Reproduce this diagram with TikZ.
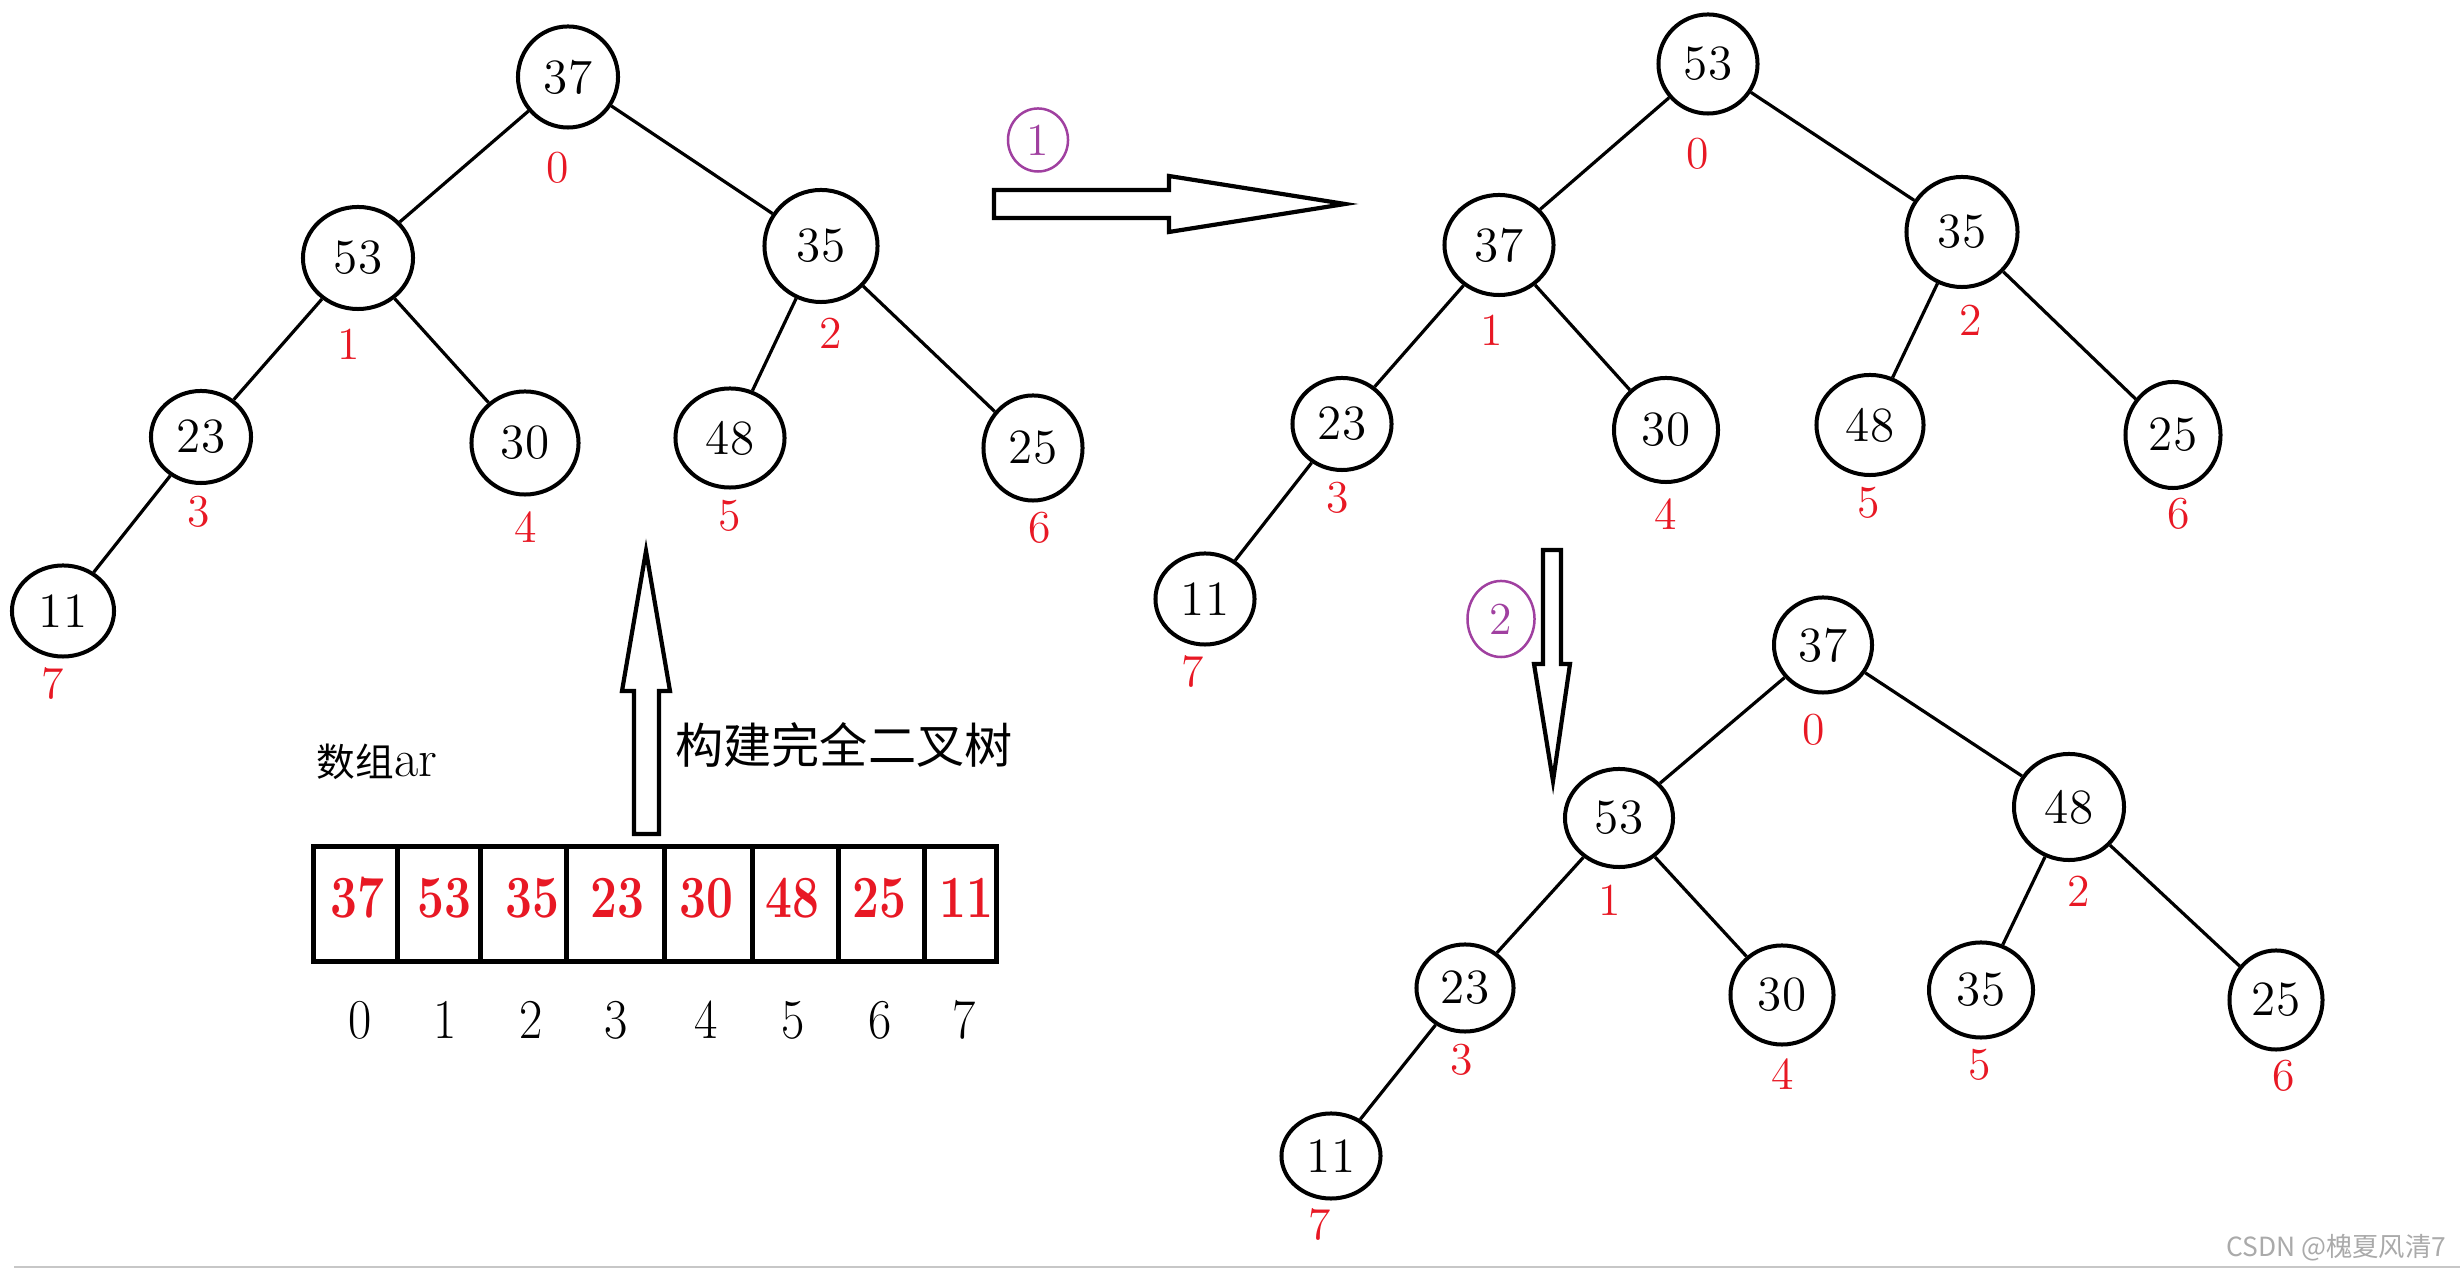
\documentclass[tikz,border=0pt]{standalone}
\usepackage{fontspec}
\newfontfamily\cjk{Noto Sans CJK SC}
\usetikzlibrary{shapes.geometric}
\definecolor{ired}{RGB}{232,24,36}
\definecolor{ppl}{RGB}{160,64,160}
\definecolor{wm}{RGB}{170,170,170}
\begin{document}
\begin{tikzpicture}[x=0.01cm,y=-0.01cm,
  tn/.style 2 args={draw, ellipse, line width=0.04cm, inner sep=0pt,
     minimum width=#1cm, minimum height=#2cm, font=\fontsize{14}{14}\selectfont},
  idx/.style={text=ired, inner sep=0pt, font=\fontsize{13}{13}\selectfont},
  edge/.style={line width=0.032cm},
  blockarrow/.style={draw, line width=0.042cm, fill=white, line join=miter},
  circnum/.style 2 args={draw=ppl, ellipse, line width=0.025cm, text=ppl, inner sep=0pt,
     minimum width=#1cm, minimum height=#2cm, font=\fontsize{13}{13}\selectfont},
  arrnum/.style={text=ired, inner sep=0pt, xscale=0.8, font=\bfseries\fontsize{17}{17}\selectfont},
  arridx/.style={inner sep=0pt, xscale=0.9, font=\fontsize{16}{16}\selectfont}]
\useasboundingbox (0,0) rectangle (2460,1268);
\fill[white] (0,0) rectangle (2460,1268);
\fill[black!22] (14,1266) rectangle (2460,1268);

% ---------- tree 1 ----------
\node[tn={1.00}{1.01}] (a0) at (568,77) {37};
\node[tn={1.10}{1.02}] (a1) at (358,258) {53};
\node[tn={1.13}{1.12}] (a2) at (821,246) {35};
\node[tn={1.00}{0.92}] (a3) at (201,437) {23};
\node[tn={1.07}{1.03}] (a4) at (525,443) {30};
\node[tn={1.09}{0.99}] (a5) at (730,438) {48};
\node[tn={0.99}{1.05}] (a6) at (1033,448) {25};
\node[tn={1.02}{0.91}] (a7) at (63,611) {11};
\foreach \p/\c in {a0/a1,a0/a2,a1/a3,a1/a4,a2/a5,a2/a6,a3/a7}
  \draw[edge] (\p) -- (\c);
\node[idx] (la0) at (558,168) {0};
\node[idx] (la1) at (349,344) {1};
\node[idx] (la2) at (831,333) {2};
\node[idx] (la3) at (199,512) {3};
\node[idx] (la4) at (526,527) {4};
\node[idx] (la5) at (730,516) {5};
\node[idx] (la6) at (1040,528) {6};
\node[idx] (la7) at (53,684) {7};

% ---------- tree 2 ----------
\node[tn={0.99}{0.99}] (b0) at (1708,64) {53};
\node[tn={1.09}{1.00}] (b1) at (1499,245) {37};
\node[tn={1.11}{1.10}] (b2) at (1962,232) {35};
\node[tn={0.99}{0.92}] (b3) at (1342,424) {23};
\node[tn={1.04}{1.04}] (b4) at (1666,430) {30};
\node[tn={1.07}{1.00}] (b5) at (1870,425) {48};
\node[tn={0.95}{1.06}] (b6) at (2173,435) {25};
\node[tn={0.99}{0.91}] (b7) at (1205,599) {11};
\foreach \p/\c in {b0/b1,b0/b2,b1/b3,b1/b4,b2/b5,b2/b6,b3/b7}
  \draw[edge] (\p) -- (\c);
\node[idx] (lb0) at (1698,154) {0};
\node[idx] (lb1) at (1492,330) {1};
\node[idx] (lb2) at (1971,320) {2};
\node[idx] (lb3) at (1338,498) {3};
\node[idx] (lb4) at (1666,514) {4};
\node[idx] (lb5) at (1869,503) {5};
\node[idx] (lb6) at (2179,514) {6};
\node[idx] (lb7) at (1193,672) {7};

% ---------- tree 3 ----------
\node[tn={0.98}{0.95}] (c0) at (1823,645) {37};
\node[tn={1.08}{0.98}] (c1) at (1619,818) {53};
\node[tn={1.10}{1.06}] (c2) at (2069,807) {48};
\node[tn={0.97}{0.87}] (c3) at (1465,988) {23};
\node[tn={1.03}{0.99}] (c4) at (1782,995) {30};
\node[tn={1.04}{0.95}] (c5) at (1981,990) {35};
\node[tn={0.93}{0.99}] (c6) at (2276,1000) {25};
\node[tn={0.99}{0.85}] (c7) at (1331,1156) {11};
\foreach \p/\c in {c0/c1,c0/c2,c1/c3,c1/c4,c2/c5,c2/c6,c3/c7}
  \draw[edge] (\p) -- (\c);
\node[idx] (lc0) at (1814,730) {0};
\node[idx] (lc1) at (1610,900) {1};
\node[idx] (lc2) at (2079,891) {2};
\node[idx] (lc3) at (1462,1060) {3};
\node[idx] (lc4) at (1783,1074) {4};
\node[idx] (lc5) at (1980,1065) {5};
\node[idx] (lc6) at (2284,1076) {6};
\node[idx] (lc7) at (1320,1225) {7};

% ---------- block arrows ----------
\draw[blockarrow] (994,190) -- (1169,190) -- (1169,176) -- (1345,204) -- (1169,232)
   -- (1169,218) -- (994,218) -- cycle;
\draw[blockarrow] (1543,550) -- (1561,550) -- (1561,664) -- (1570,664) -- (1553,781)
   -- (1534,664) -- (1543,664) -- cycle;
\draw[blockarrow] (634,834) -- (659,834) -- (659,691) -- (670,691) -- (646,551)
   -- (622,691) -- (634,691) -- cycle;

\node[circnum={0.60}{0.63}] (m1) at (1038,140) {1};
\node[circnum={0.67}{0.76}] (m2) at (1501,619) {2};

% ---------- array ----------
\draw[line width=0.05cm] (313,847) rectangle (996,962);
\foreach \x in {397,480,566,664,752,838,924}
  \draw[line width=0.05cm] (\x,847) -- (\x,962);
\foreach \v/\x [count=\i from 0] in {37/357,53/444,35/532,23/617,30/706,48/792,25/879,11/966}
  \node[arrnum] (v\i) at (\x,898) {\v};
\foreach \x [count=\i from 0] in {360,445,531,616,706,793,880,964}
  \node[arridx] (n\i) at (\x,1020) {\i};

\node[anchor=base west, inner sep=0pt] (arrname) at (316,777)
  {{\cjk\fontsize{11}{11}\selectfont 数组}{\fontsize{15}{15}\selectfont ar}};
\node[inner sep=0pt, font=\cjk\fontsize{13.7}{14}\selectfont] (build) at (844,745) {构建完全二叉树};

\node[anchor=east, inner sep=0pt, text=wm, font=\cjk\fontsize{7.5}{8}\selectfont] (mark) at (2447,1248) {CSDN @槐夏风清7};
\end{tikzpicture}
\end{document}
